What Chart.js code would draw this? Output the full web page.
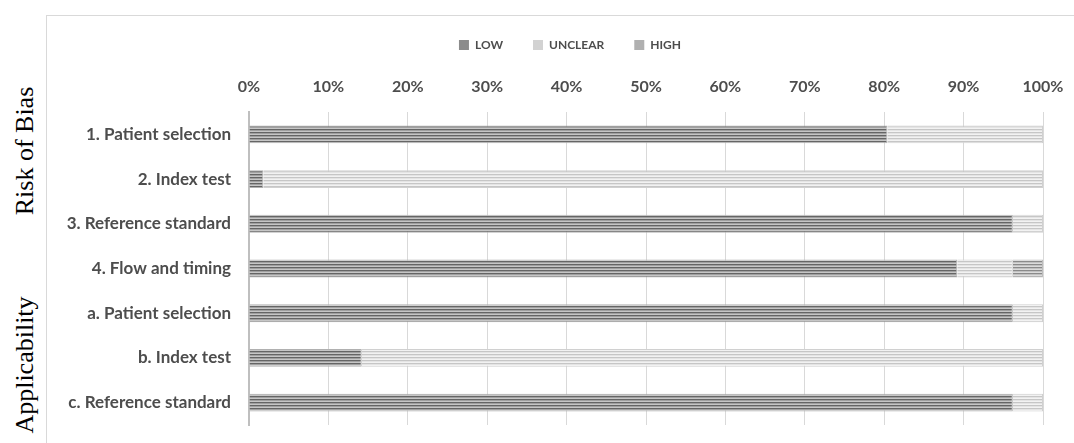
<!DOCTYPE html>
<html>
<head>
<meta charset="utf-8">
<script src="https://cdn.jsdelivr.net/npm/chart.js@4"></script>
<style>
  html, body { margin: 0; padding: 0; background: #fff; }
  body { width: 1074px; height: 443px; position: relative; overflow: hidden; }
  #frame {
    position: absolute; left: 46px; top: 15px; width: 1028px; height: 428px;
    border-left: 1px solid #d9d9d9; border-top: 1px solid #d9d9d9; box-sizing: border-box;
  }
  #wrap { position: absolute; left: 47px; top: 15px; width: 1027px; height: 428px; }
  .side {
    position: absolute; font-family: "Liberation Serif", serif; font-size: 26px; color: #000;
    white-space: nowrap; transform: translate(-50%, -50%) rotate(-90deg);
  }
</style>
</head>
<body>
<div id="frame"></div>
<div class="side" style="left:25px; top:151px;">Risk of Bias</div>
<div class="side" style="left:25px; top:365px;">Applicability</div>
<div id="wrap"><canvas id="plotCanvas"></canvas></div>
<script>
const DOMAINS = [
  '1. Patient selection', '2. Index test', '3. Reference standard', '4. Flow and timing',
  'a. Patient selection', 'b. Index test', 'c. Reference standard'
];
const LOW     = [80.4, 1.8, 96.2, 89.2, 96.2, 14.2, 96.2];
const UNCLEAR = [19.6, 98.2, 3.8, 7.0, 3.8, 85.8, 3.8];
const HIGH    = [0, 0, 0, 3.8, 0, 0, 0];
const PERCENT_TICKS = [0, 10, 20, 30, 40, 50, 60, 70, 80, 90, 100];

// horizontal line fill, one colour per row of the tile
function stripes(rows) {
  const c = document.createElement('canvas');
  c.width = 8; c.height = rows.length;
  const g = c.getContext('2d');
  rows.forEach((col, i) => { g.fillStyle = col; g.fillRect(0, i, 8, 1); });
  return g.createPattern(c, 'repeat');
}

// nudge the legend row to the right, over the plot area
const legendShift = {
  id: 'legendShift',
  afterLayout(c) { c.legend.left += 25; c.legend.right += 25; }
};

let chart;

document.addEventListener('DOMContentLoaded', () => {
  const ctx = document.getElementById('plotCanvas').getContext('2d');

  chart = new Chart(ctx, {
    type: 'bar',
    data: {
      labels: DOMAINS,
      datasets: [
        { label: 'LOW', data: LOW, backgroundColor: stripes(['#656565', '#a0a0a0', '#c6c6c6']),
          borderColor: '#b0b0b0', borderWidth: 1, legendColor: '#8c8c8c' },
        { label: 'UNCLEAR', data: UNCLEAR, backgroundColor: stripes(['#c6c6c6', '#e4e4e4', '#f2f2f2']),
          borderColor: '#d0d0d0', borderWidth: 1, legendColor: '#d2d2d2' },
        { label: 'HIGH', data: HIGH, backgroundColor: stripes(['#8a8a8a', '#c0c0c0', '#dadada']),
          borderColor: '#bdbdbd', borderWidth: 1, legendColor: '#b0b0b0' }
      ]
    },
    plugins: [legendShift],
    options: {
      indexAxis: 'y',
      responsive: true,
      maintainAspectRatio: false,
      animation: false,
      categoryPercentage: 0.8,
      barPercentage: 0.5,
      layout: { padding: { top: -6, right: 31, bottom: 18, left: 0 } },
      plugins: {
        tooltip: { enabled: false },
        legend: {
          position: 'top',
          labels: {
            boxWidth: 10, boxHeight: 10, padding: 30, color: '#4d4d4d',
            font: { family: 'Lato', size: 12, weight: 'bold' },
            generateLabels: c => c.data.datasets.map((ds, i) => ({
              text: ds.label, fillStyle: ds.legendColor, strokeStyle: ds.legendColor,
              lineWidth: 0, fontColor: '#4d4d4d', datasetIndex: i
            }))
          }
        }
      },
      scales: {
        x: {
          position: 'top', stacked: true, min: 0, max: 100,
          afterBuildTicks: s => { s.ticks = PERCENT_TICKS.map(v => ({ value: v })); },
          afterFit: s => { s.height = 51; s.paddingLeft = 0; s.paddingRight = 0; },
          ticks: { padding: 16, color: '#4d4d4d', font: { family: 'Lato', size: 16, weight: 'bold' },
                   callback: v => v + '%' },
          grid: { color: '#d9d9d9', lineWidth: 1, drawTicks: false },
          border: { display: false }
        },
        y: {
          stacked: true,
          afterFit: s => { s.width = 202; s.paddingTop = 0; s.paddingBottom = 0; },
          ticks: { padding: 18, color: '#4d4d4d', font: { family: 'Lato', size: 17, weight: 'bold' } },
          grid: { display: false, drawTicks: false },
          border: { display: true, color: '#bfbfbf', width: 2 }
        }
      }
    }
  });
});
</script>
</body>
</html>
